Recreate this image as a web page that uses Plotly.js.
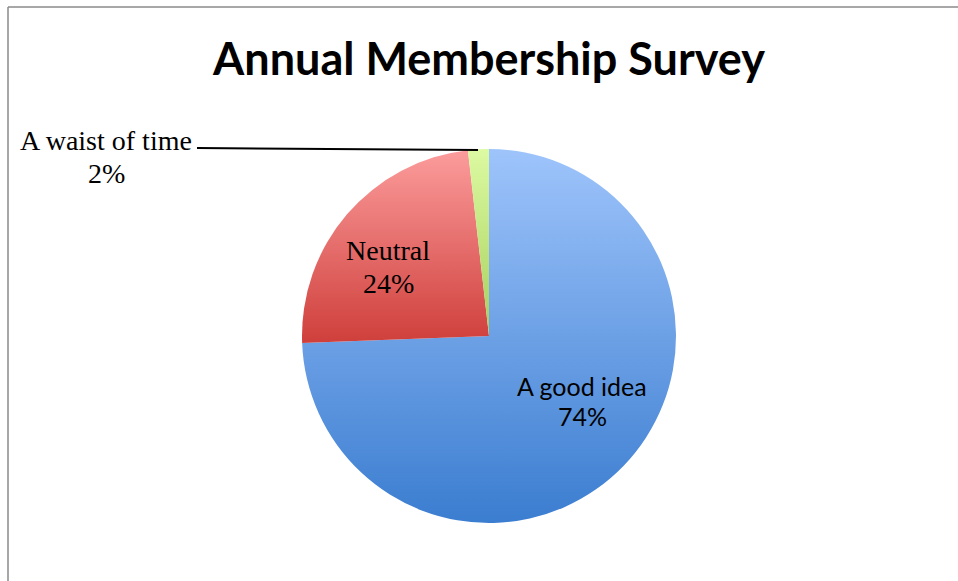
<!DOCTYPE html>
<html>
<head>
<meta charset="utf-8">
<script src="https://cdn.plot.ly/plotly-3.0.1.min.js"></script>
<style>
html,body{margin:0;padding:0;background:#fff;}
#chart{width:958px;height:581px;}
</style>
</head>
<body>
<div id="chart"></div>
<script>
const categories = ["A good idea", "Neutral", "A waist of time"];
const values = [74.4, 23.8, 1.8];
const titleText = "Annual Membership Survey";

const W = 958, H = 581;
const px = x => x / W;
const py = y => 1 - y / H;

const total = values.reduce((a, b) => a + b, 0);
const pct = values.map(v => Math.round(v / total * 100) + "%");

const baseColors = ["#6f9fe6", "#e46c6a", "#c2e585"];
const gradStops = [
  ["#9ec4fb", "#3b7dd0"],
  ["#fb9c9c", "#cf3f3b"],
  ["#dcfaa2", "#a6cf5c"]
];

const trace = {
  type: "pie",
  labels: categories,
  values: values,
  sort: false,
  direction: "clockwise",
  rotation: 0,
  textinfo: "none",
  hoverinfo: "label+percent",
  marker: { colors: baseColors, line: { width: 0 } },
  domain: { x: [px(302), px(676)], y: [py(523), py(149)] },
  showlegend: false
};

const labelPos = [
  { x: 582, y1: 386, y2: 416, font: { family: "Lato, 'Open Sans', sans-serif", size: 25, color: "#000" } },
  { x: 388, y1: 250, y2: 283, font: { family: "'Liberation Serif', 'DejaVu Serif', serif", size: 28, color: "#000" } },
  { x: 106, y1: 140, y2: 173, font: { family: "'Liberation Serif', 'DejaVu Serif', serif", size: 28, color: "#000" } }
];

const annotations = [];
categories.forEach((c, i) => {
  [[c, labelPos[i].y1], [pct[i], labelPos[i].y2]].forEach(([t, y]) => {
    annotations.push({
      text: t,
      xref: "paper", yref: "paper",
      x: px(labelPos[i].x), y: py(y),
      xanchor: "center", yanchor: "middle",
      showarrow: false,
      font: labelPos[i].font
    });
  });
});

const layout = {
  width: W, height: H,
  margin: { l: 0, r: 0, t: 0, b: 0 },
  paper_bgcolor: "#ffffff",
  title: {
    text: "<b>" + titleText + "</b>",
    x: px(489), y: py(59), xref: "paper", yref: "paper",
    xanchor: "center", yanchor: "middle",
    font: { family: "Lato, 'Open Sans', sans-serif", size: 45, color: "#000" }
  },
  annotations: annotations,
  shapes: [
    { type: "line", xref: "paper", yref: "paper", x0: px(8), x1: px(8), y0: -0.02, y1: py(7), line: { color: "#8a8a8a", width: 1.5 } },
    { type: "line", xref: "paper", yref: "paper", x0: px(8), x1: 1.02, y0: py(7), y1: py(7), line: { color: "#8a8a8a", width: 1.5 } },
    { type: "line", xref: "paper", yref: "paper", x0: px(197), x1: px(478), y0: py(148), y1: py(150), line: { color: "#000", width: 2 } }
  ]
};

Plotly.newPlot("chart", [trace], layout, { displayModeBar: false, staticPlot: true }).then(gd => {
  const svg = gd.querySelector("svg.main-svg");
  const NS = "http://www.w3.org/2000/svg";
  let defs = svg.querySelector("defs");
  if (!defs) { defs = document.createElementNS(NS, "defs"); svg.insertBefore(defs, svg.firstChild); }
  gradStops.forEach((s, i) => {
    const g = document.createElementNS(NS, "linearGradient");
    g.setAttribute("id", "sliceGrad" + i);
    g.setAttribute("x1", "0"); g.setAttribute("y1", "0");
    g.setAttribute("x2", "0"); g.setAttribute("y2", "1");
    [[0, s[0]], [1, s[1]]].forEach(([o, c]) => {
      const st = document.createElementNS(NS, "stop");
      st.setAttribute("offset", o);
      st.setAttribute("stop-color", c);
      g.appendChild(st);
    });
    defs.appendChild(g);
  });
  gd.querySelectorAll("g.slice path.surface").forEach((p, i) => {
    p.style.fill = "url(#sliceGrad" + i + ")";
  });
});
</script>
</body>
</html>
